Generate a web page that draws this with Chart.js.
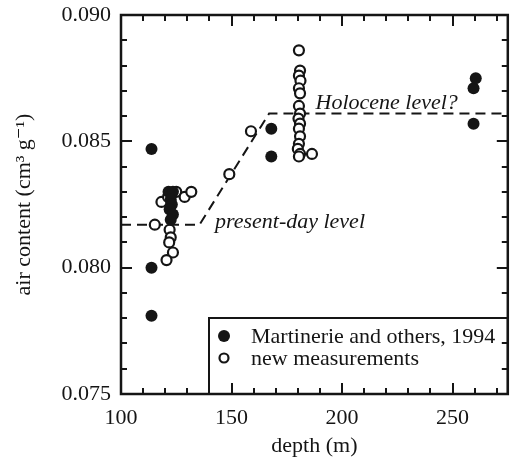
<!DOCTYPE html>
<html><head><meta charset="utf-8">
<script src="https://cdn.jsdelivr.net/npm/chart.js@4"></script>
<style>html,body{margin:0;padding:0;background:#fff}#wrap{width:515px;height:468px}</style>
</head><body><div id="wrap"><canvas id="c" width="515" height="468"></canvas></div>
<script>
const xTickValues = [100, 150, 200, 250];
const yTickValues = [0.075, 0.080, 0.085, 0.090];
const seriesLabels = ['Martinerie and others, 1994', 'new measurements'];
const axisTitles = ['depth (m)', 'air content (cm³ g⁻¹)'];

const martinerieDepth = [113.8, 113.8, 113.8, 121.5, 123.5, 122.5, 123, 122, 123.5, 122.5, 168, 168, 259.5, 260.5, 259.5];
const martinerieAir   = [0.0847, 0.0800, 0.0781, 0.0830, 0.0830, 0.0827, 0.0825, 0.0823, 0.0821, 0.0819, 0.0855, 0.0844, 0.0871, 0.0875, 0.0857];

const newDepth = [115.3, 118.3, 121.3, 125.0, 128.8, 131.8, 122.0, 122.5, 121.8, 123.5, 120.6, 149.0, 158.8,
                  180.5, 181.0, 180.5, 181.2, 180.5, 181.0, 180.5, 181.0, 180.3, 181.0, 180.5, 181.0, 180.5, 180.0, 181.0, 180.5, 186.4];
const newAir   = [0.0817, 0.0826, 0.0828, 0.0830, 0.0828, 0.0830, 0.0815, 0.0812, 0.0810, 0.0806, 0.0803, 0.0837, 0.0854,
                  0.0886, 0.0878, 0.0876, 0.0874, 0.0871, 0.0869, 0.0864, 0.0861, 0.0859, 0.0857, 0.0855, 0.0852, 0.0849, 0.0847, 0.0845, 0.0844, 0.0845];

const levelDepth = [100, 135.5, 167, 275];
const levelAir   = [0.0817, 0.0817, 0.0861, 0.0861];

const annotationTexts = ['present-day level', 'Holocene level?'];
const annotationDepth = [142.5, 188];
const annotationAir   = [0.0817, 0.0861];

const INK = '#151515';
const SERIF = '"Liberation Serif", "DejaVu Serif", serif';

const toPts = (xs, ys) => xs.map((x, i) => ({x, y: ys[i]}));

const framePlugin = {
  id: 'frame',
  afterDraw(chart) {
    const {ctx, chartArea: a, scales: {x, y}} = chart;
    ctx.save();
    ctx.strokeStyle = INK;
    ctx.fillStyle = INK;
    // legend box
    const lx = 209, ly = 318;
    ctx.fillStyle = '#fff';
    ctx.fillRect(lx, ly, a.right - lx, a.bottom - ly);
    ctx.lineWidth = 2;
    ctx.strokeRect(lx, ly, a.right - lx, a.bottom - ly);
    ctx.fillStyle = INK;
    ctx.beginPath(); ctx.arc(224, 336, 6, 0, Math.PI * 2); ctx.fill();
    ctx.beginPath(); ctx.arc(224, 358, 4.5, 0, Math.PI * 2);
    ctx.fillStyle = '#fff'; ctx.fill(); ctx.lineWidth = 2.2; ctx.stroke();
    ctx.fillStyle = INK;
    ctx.font = '22px ' + SERIF;
    ctx.textBaseline = 'middle';
    ctx.textAlign = 'left';
    ctx.fillText(seriesLabels[0], 251, 337);
    ctx.fillText(seriesLabels[1], 251, 359);

    // frame
    ctx.lineWidth = 2.5;
    ctx.strokeRect(a.left, a.top, a.right - a.left, a.bottom - a.top);
    // ticks
    ctx.lineWidth = 2;
    ctx.beginPath();
    for (let v = 100; v <= 275; v += 10) {
      const px = Math.round(x.getPixelForValue(v));
      const len = xTickValues.includes(v) ? 11 : 6;
      ctx.moveTo(px, a.bottom); ctx.lineTo(px, a.bottom - len);
      ctx.moveTo(px, a.top); ctx.lineTo(px, a.top + len);
    }
    for (let k = 75; k <= 90; k++) {
      const v = k / 1000;
      const py = Math.round(y.getPixelForValue(v));
      const len = (k % 5 === 0) ? 11 : 6;
      ctx.moveTo(a.left, py); ctx.lineTo(a.left + len, py);
      ctx.moveTo(a.right, py); ctx.lineTo(a.right - len, py);
    }
    ctx.stroke();

    // annotations
    ctx.font = 'italic 22px ' + SERIF;
    ctx.fillStyle = INK;
    ctx.textBaseline = 'middle';
    ctx.fillText(annotationTexts[0], x.getPixelForValue(annotationDepth[0]), y.getPixelForValue(annotationAir[0]) - 2);
    ctx.textBaseline = 'alphabetic';
    ctx.fillText(annotationTexts[1], x.getPixelForValue(annotationDepth[1]), y.getPixelForValue(annotationAir[1]) - 5);
    ctx.restore();
  }
};

new Chart(document.getElementById('c'), {
  type: 'scatter',
  data: {
    datasets: [
      {
        label: seriesLabels[0],
        data: toPts(martinerieDepth, martinerieAir),
        pointRadius: 6, pointBackgroundColor: INK, pointBorderColor: INK, pointBorderWidth: 0,
        order: 0
      },
      {
        label: seriesLabels[1],
        data: toPts(newDepth, newAir),
        pointRadius: 5, pointBackgroundColor: '#fff', pointBorderColor: INK, pointBorderWidth: 2.2,
        order: 1
      },
      {
        type: 'line',
        label: 'level',
        data: toPts(levelDepth, levelAir),
        borderColor: INK, borderWidth: 2, borderDash: [10, 6], pointRadius: 0, fill: false, tension: 0,
        order: 3
      }
    ]
  },
  options: {
    responsive: false,
    devicePixelRatio: 1,
    animation: false,
    layout: {padding: {left: 0, right: 5, top: 15, bottom: 0}},
    plugins: {legend: {display: false}, tooltip: {enabled: false}},
    scales: {
      x: {
        type: 'linear', min: 100, max: 275,
        afterBuildTicks: s => { s.ticks = xTickValues.map(v => ({value: v})); },
        afterFit: s => { s.height = 74; s.paddingLeft = 0; s.paddingRight = 0; },
        grid: {display: false, drawTicks: false},
        border: {display: false},
        ticks: {color: INK, font: {family: SERIF, size: 22}, padding: 11, maxRotation: 0, callback: v => String(v)},
        title: {display: true, text: axisTitles[0], color: INK, font: {family: SERIF, size: 22}, padding: {top: 0, bottom: 9}}
      },
      y: {
        type: 'linear', min: 0.075, max: 0.090,
        afterBuildTicks: s => { s.ticks = yTickValues.map(v => ({value: v})); },
        afterFit: s => { s.width = 121; s.paddingTop = 0; s.paddingBottom = 0; },
        grid: {display: false, drawTicks: false},
        border: {display: false},
        ticks: {color: INK, font: {family: SERIF, size: 22}, padding: 10, callback: v => Number(v).toFixed(3)},
        title: {display: true, text: axisTitles[1], color: INK, font: {family: SERIF, size: 22}, padding: {top: 11, bottom: 0}}
      }
    }
  },
  plugins: [framePlugin]
});
</script>
</body></html>
